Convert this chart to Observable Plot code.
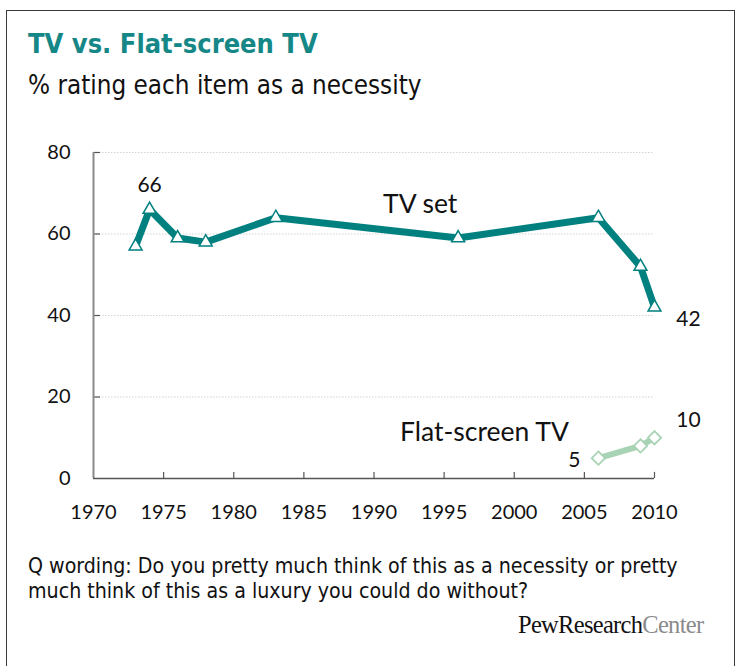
<!DOCTYPE html>
<html>
<head>
<meta charset="utf-8">
<script src="https://cdn.jsdelivr.net/npm/d3@7"></script>
<script src="https://cdn.jsdelivr.net/npm/@observablehq/plot@0.6"></script>
<style>
  html, body { margin: 0; padding: 0; background: #fff; }
  body { width: 738px; height: 666px; position: relative; overflow: hidden; }
  #frame { position: absolute; left: 6px; top: 10px; width: 729px; height: 700px; border: 1.5px solid #3a3a3a; box-sizing: border-box; }
  .t { position: absolute; white-space: nowrap; }
  #title { left: 28px; top: 28px; font-family: "DejaVu Sans Condensed", "DejaVu Sans", sans-serif; font-stretch: condensed; font-weight: bold; font-size: 27px; color: #168787; }
  #subtitle { left: 28px; top: 70px; font-family: "DejaVu Sans Condensed", "DejaVu Sans", sans-serif; font-stretch: condensed; font-size: 25.8px; color: #111; }
  #note { left: 28px; top: 553px; font-family: "DejaVu Sans Condensed", "DejaVu Sans", sans-serif; font-stretch: condensed; font-size: 21.2px; line-height: 25px; color: #111; }
  #pew { left: 518px; top: 611px; font-family: "Liberation Serif", serif; font-size: 24.5px; letter-spacing: -0.7px; color: #111; }
  #pew span { color: #8a8a8a; }
  #chart { position: absolute; left: 0; top: 120px; }
</style>
</head>
<body>
<div id="frame"></div>
<div class="t" id="title">TV vs. Flat-screen TV</div>
<div class="t" id="subtitle">% rating each item as a necessity</div>
<div id="chart"></div>
<div class="t" id="note">Q wording: Do you pretty much think of this as a necessity or pretty<br>much think of this as a luxury you could do without?</div>
<div class="t" id="pew">PewResearch<span>Center</span></div>
<script>
const tvYears = [1973, 1974, 1976, 1978, 1983, 1996, 2006, 2009, 2010];
const tvValues = [57, 66, 59, 58, 64, 59, 64, 52, 42];
const flatYears = [2006, 2009, 2010];
const flatValues = [5, 8, 10];
const xTicks = [1970, 1975, 1980, 1985, 1990, 1995, 2000, 2005, 2010];
const yTicks = [0, 20, 40, 60, 80];

const tv = tvYears.map((year, i) => ({year, value: tvValues[i]}));
const flat = flatYears.map((year, i) => ({year, value: flatValues[i]}));

const teal = "#00807f";
const green = "#a8d3b4";
const font = "Lato, 'Open Sans', sans-serif";

const chart = Plot.plot({
  width: 738,
  height: 420,
  marginLeft: 93,
  marginRight: 84,
  marginTop: 32,
  marginBottom: 62,
  style: {fontFamily: font, fontSize: "20px", color: "#111", background: "transparent", overflow: "visible"},
  x: {domain: [1970, 2010]},
  y: {domain: [0, 80]},
  marks: [
    Plot.gridY(yTicks.filter(d => d > 0), {stroke: "#d2d2d2", strokeOpacity: 1, strokeDasharray: "1.5,1.5", strokeWidth: 1}),
    Plot.axisY(yTicks, {tickSize: 0, tickPadding: 23, label: null, fontSize: 20, color: "#111"}),
    Plot.axisX(xTicks, {tickSize: 0, tickPadding: 26, label: null, tickFormat: d => String(d), fontSize: 20}),
    Plot.ruleX(xTicks.filter(d => d > 1970), {x: d => d, y1: 0, y2: 1.5, stroke: "#555", strokeWidth: 1.2}),
    Plot.ruleY(yTicks.filter(d => d > 0), {y: d => d, x1: 1970, x2: 1970.5, stroke: "#555", strokeWidth: 1.2}),
    Plot.ruleX([1970], {y1: 0, y2: 80, stroke: "#8a8a8a", strokeWidth: 2}),
    Plot.ruleY([0], {x1: 1970, x2: 2010, stroke: "#555", strokeWidth: 1.5}),
    Plot.line(flat, {x: "year", y: "value", stroke: green, strokeWidth: 6, strokeLinejoin: "miter"}),
    Plot.dot(flat, {x: "year", y: "value", symbol: "diamond2", r: 6, fill: "#fff", stroke: green, strokeWidth: 1.8}),
    Plot.line(tv, {x: "year", y: "value", stroke: teal, strokeWidth: 7, strokeLinejoin: "miter"}),
    Plot.dot(tv, {x: "year", y: "value", symbol: "triangle", r: 4.8, fill: "#fff", stroke: teal, strokeWidth: 1.5}),
    Plot.text([tv[1]], {x: "year", y: "value", text: d => String(d.value), dy: -24, fontSize: 21, fill: "#111"}),
    Plot.text([tv[8]], {x: "year", y: "value", text: d => String(d.value), dx: 34, dy: 12, fontSize: 21, fill: "#111"}),
    Plot.text([tv[5]], {x: "year", y: "value", text: () => "TV set", dx: -38, dy: -34, fontSize: 26.5, fill: "#111"}),
    Plot.text([flat[0]], {x: "year", y: "value", text: () => "Flat-screen TV", dx: -114, dy: -26, fontSize: 26.5, fill: "#111"}),
    Plot.text([flat[0]], {x: "year", y: "value", text: d => String(d.value), dx: -24, dy: 2, fontSize: 21, fill: "#111"}),
    Plot.text([flat[2]], {x: "year", y: "value", text: d => String(d.value), dx: 34, dy: -17, fontSize: 21, fill: "#111"})
  ]
});
document.getElementById("chart").appendChild(chart);
</script>
</body>
</html>
